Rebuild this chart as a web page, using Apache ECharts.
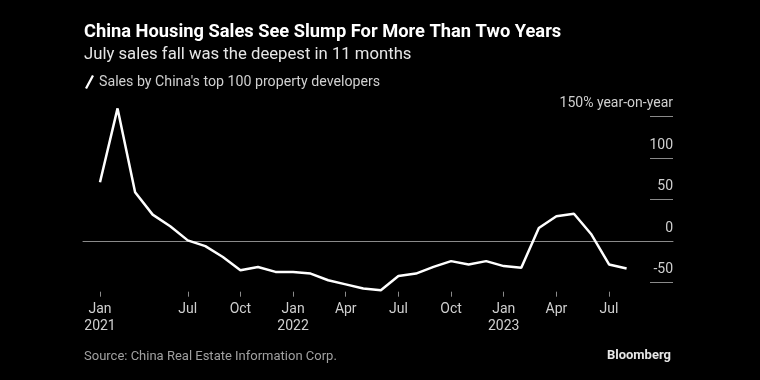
<!DOCTYPE html>
<html>
<head>
<meta charset="utf-8">
<script src="https://cdn.jsdelivr.net/npm/echarts@6/dist/echarts.min.js"></script>
<style>
html,body{margin:0;padding:0;background:#000;}
#chart{width:760px;height:380px;}
</style>
</head>
<body>
<div id="chart"></div>
<script>
// ---- data ----
const months = ['2021-01','2021-02','2021-03','2021-04','2021-05','2021-06','2021-07','2021-08','2021-09','2021-10','2021-11','2021-12',
  '2022-01','2022-02','2022-03','2022-04','2022-05','2022-06','2022-07','2022-08','2022-09','2022-10','2022-11','2022-12',
  '2023-01','2023-02','2023-03','2023-04','2023-05','2023-06','2023-07'];
const sales = [71,160,59,32,18,1,-6,-19,-35,-31,-37,-37,
  -39,-47,-52,-57,-59,-42,-39,-31,-24,-28,-24,-30,
  -32,16,30,33,8,-28,-33];
const xTickIndex = [0,5,8,11,14,17,20,23,26,29];
const xTickLabels = ['Jan\n2021','Jul','Oct','Jan\n2022','Apr','Jul','Oct','Jan\n2023','Apr','Jul'];
const yMin = -50, yMax = 150, yStep = 50;
const seriesName = "Sales by China's top 100 property developers";
const titleText = 'China Housing Sales See Slump For More Than Two Years';
const subtitleText = 'July sales fall was the deepest in 11 months';
const sourceText = 'Source: China Real Estate Information Corp.';

const FONT = 'Roboto';
const chart = echarts.init(document.getElementById('chart'), null, {renderer:'canvas'});
const plotTop = 116.7, plotBottom = 97.3;
chart.setOption({
  backgroundColor:'#000',
  animation:false,
  title:[
    {text:titleText, left:84, top:22, padding:0,
     textStyle:{color:'#fff', fontFamily:FONT, fontWeight:'bold', fontSize:18.3, lineHeight:21}},
    {text:subtitleText, left:84, top:45, padding:0,
     textStyle:{color:'#e6e6e6', fontFamily:FONT, fontWeight:'normal', fontSize:16.7, lineHeight:20}},
    {text:sourceText, left:84, top:349, padding:0,
     textStyle:{color:'#a0a0a0', fontFamily:FONT, fontWeight:'normal', fontSize:13, lineHeight:16}},
    {text:'Bloomberg', right:89, top:348, padding:0,
     textStyle:{color:'#e6e6e6', fontFamily:FONT, fontWeight:'bold', fontSize:13, lineHeight:16}}
  ],
  legend:{
    left:85, top:75, padding:0, itemWidth:9, itemHeight:14, itemGap:10,
    data:[{name:seriesName, icon:'path://M7,0 L9,1 L2,14 L0,13 Z'}],
    textStyle:{color:'#d0d0d0', fontFamily:FONT, fontSize:14.2},
    selectedMode:false
  },
  grid:[
    {left:100, right:133.4, top:plotTop, bottom:plotBottom},
    {left:83, right:87, top:plotTop, bottom:plotBottom}
  ],
  xAxis:[
    {type:'category', gridIndex:0, data:months, boundaryGap:false, offset:9,
     axisLine:{show:true, onZero:false, lineStyle:{color:'rgba(0,0,0,0)'}},
     axisTick:{show:true, length:5, lineStyle:{color:'#8a8a8a', width:1},
       interval:(i)=>xTickIndex.includes(i)},
     axisLabel:{show:true, margin:9, color:'#cfcfcf', fontFamily:FONT, fontSize:14, lineHeight:17,
       interval:(i)=>xTickIndex.includes(i),
       formatter:(v,i)=>{const k=xTickIndex.indexOf(i);return k>=0?xTickLabels[k]:'';}},
     splitLine:{show:false}},
    {type:'value', gridIndex:1, min:0, max:1, show:true,
     axisLine:{show:true, onZero:true, lineStyle:{color:'#8a8a8a', width:1}},
     axisTick:{show:false}, axisLabel:{show:false}, splitLine:{show:false}}
  ],
  yAxis:[
    {type:'value', gridIndex:0, min:yMin, max:yMax, interval:yStep, show:false},
    {type:'value', gridIndex:1, min:yMin, max:yMax, interval:yStep, position:'right',
     axisLine:{show:false, onZero:false},
     axisTick:{show:true, inside:true, length:23, lineStyle:{color:'#8a8a8a', width:1}},
     axisLabel:{show:true, inside:true, margin:0, verticalAlign:'bottom', lineHeight:16, padding:[0,0,5,0],
       color:'#cfcfcf', fontFamily:FONT, fontSize:14,
       formatter:(v)=> v===yMax ? v+'% year-on-year' : String(v)},
     splitLine:{show:false}}
  ],
  series:[
    {name:seriesName, type:'line', xAxisIndex:0, yAxisIndex:0, data:sales,
     symbol:'none', clip:false, smooth:false,
     lineStyle:{color:'#fff', width:2.5}, itemStyle:{color:'#fff'}}
  ]
});
</script>
</body>
</html>
